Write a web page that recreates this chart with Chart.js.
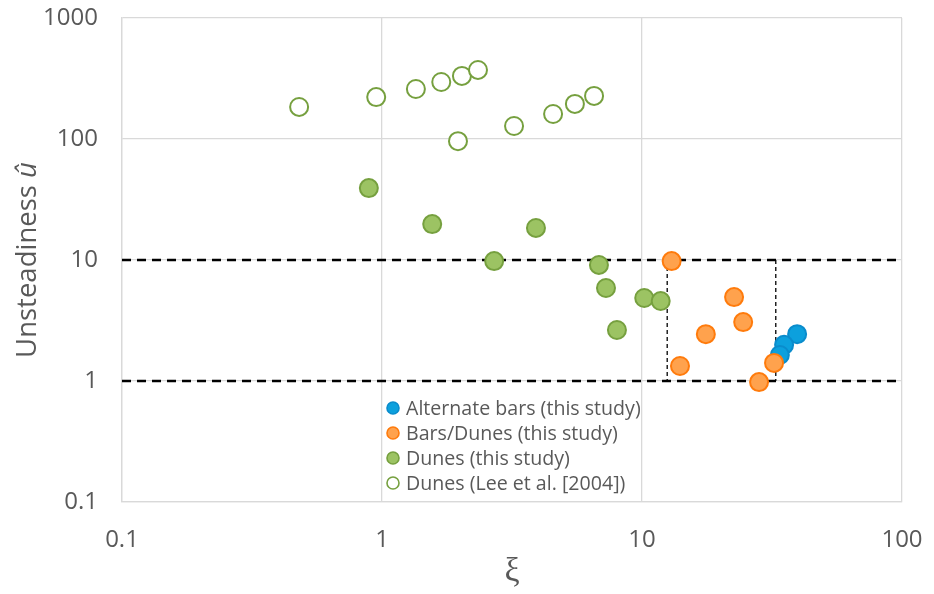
<!DOCTYPE html>
<html>
<head>
<meta charset="utf-8">
<title>Unsteadiness vs xi</title>
<script src="https://cdn.jsdelivr.net/npm/chart.js@4.4.1/dist/chart.umd.min.js"></script>
<style>
  html, body { margin: 0; padding: 0; background: #fff; }
  #wrap { width: 934px; height: 594px; }
</style>
</head>
<body>
<div id="wrap"><canvas id="scatterChart" width="934" height="594"></canvas></div>
<script>
// Data
const altBarsXi = [39.5, 35.2, 33.9];
const altBarsU = [2.44, 1.99, 1.64];

const barsDunesXi = [13.0, 22.6, 24.5, 17.6, 14.0, 32.2, 28.2];
const barsDunesU = [9.8, 4.94, 3.07, 2.44, 1.33, 1.41, 0.98];

const dunesXi = [0.89, 1.56, 3.91, 2.70, 6.83, 7.27, 10.2, 11.8, 8.01];
const dunesU = [39.3, 19.8, 18.4, 9.8, 9.1, 5.87, 4.85, 4.58, 2.64];

const leeXi = [0.48, 0.95, 1.35, 1.69, 2.03, 2.34, 1.96, 3.22, 4.55, 5.52, 6.54];
const leeU = [184, 222, 259, 296, 332, 372, 96, 128, 161, 195, 227];

// Dashed bounds: horizontal at u = 1 and 10, vertical box edges
const boundU = [1, 10];
const boundXi = [12.5, 32.7];

const xTicks = [0.1, 1, 10, 100];
const yTicks = [0.1, 1, 10, 100, 1000];

const seriesLabels = [
  'Alternate bars (this study)',
  'Bars/Dunes (this study)',
  'Dunes (this study)',
  'Dunes (Lee et al. [2004])'
];

const GRID = '#d9d9d9';
const TEXT = '#595959';

function toPoints(xs, ys) {
  return xs.map((x, i) => ({ x: x, y: ys[i] }));
}

/**
 * Draws the in-plot legend and both axis titles
 */
const decorPlugin = {
  id: 'decor',
  afterDraw(chart) {
    const ctx = chart.ctx;
    const area = chart.chartArea;
    ctx.save();

    // legend
    const lx = 393, ly = 408, step = 25;
    ctx.font = '19.6px "Open Sans"';
    ctx.textBaseline = 'middle';
    ctx.textAlign = 'left';
    seriesLabels.forEach((label, i) => {
      const ds = chart.data.datasets[i];
      const y = ly + i * step;
      ctx.beginPath();
      ctx.arc(lx, y, 6, 0, Math.PI * 2);
      ctx.fillStyle = ds.backgroundColor;
      ctx.fill();
      ctx.lineWidth = 1.6;
      ctx.strokeStyle = ds.borderColor;
      ctx.stroke();
      ctx.fillStyle = TEXT;
      ctx.fillText(label, lx + 13, y + 1);
    });

    // x title
    ctx.font = '34px "Liberation Serif"';
    ctx.textAlign = 'center';
    ctx.fillStyle = TEXT;
    ctx.fillText('ξ', (area.left + area.right) / 2, 572);

    // y title, regular word plus italic u-hat
    const word = 'Unsteadiness ';
    const sym = 'û';
    ctx.translate(28, (area.top + area.bottom) / 2);
    ctx.rotate(-Math.PI / 2);
    ctx.textAlign = 'left';
    ctx.font = '27.5px "Open Sans"';
    const w1 = ctx.measureText(word).width;
    ctx.font = 'italic 27.5px "Open Sans"';
    const w2 = ctx.measureText(sym).width;
    const start = -(w1 + w2) / 2;
    ctx.font = '27.5px "Open Sans"';
    ctx.fillText(word, start, 0);
    ctx.font = 'italic 27.5px "Open Sans"';
    ctx.fillText(sym, start + w1, 0);

    ctx.restore();
  }
};

function buildDatasets() {
  const markers = [
    { xs: altBarsXi, ys: altBarsU, fill: '#0ca0dd', line: '#0a8ccc', order: 4 },
    { xs: barsDunesXi, ys: barsDunesU, fill: '#ffa24d', line: '#ff7b0c', order: 3 },
    { xs: dunesXi, ys: dunesU, fill: '#9cc363', line: '#76a03f', order: 2 },
    { xs: leeXi, ys: leeU, fill: '#ffffff', line: '#76a03f', order: 1 }
  ];

  const datasets = markers.map((m, i) => ({
    label: seriesLabels[i],
    data: toPoints(m.xs, m.ys),
    backgroundColor: m.fill,
    borderColor: m.line,
    pointRadius: 9,
    pointBorderWidth: 2,
    pointHoverRadius: 9,
    showLine: false,
    order: m.order
  }));

  // thick horizontal dashed bounds across the whole plot
  boundU.forEach(u => {
    datasets.push({
      label: 'bound',
      data: [{ x: xTicks[0], y: u }, { x: xTicks[xTicks.length - 1], y: u }],
      showLine: true,
      borderColor: '#000',
      borderWidth: 2.6,
      borderDash: [9, 6],
      pointRadius: 0,
      order: 6
    });
  });

  // thin vertical dashed box edges
  boundXi.forEach(xi => {
    datasets.push({
      label: 'box',
      data: [{ x: xi, y: boundU[1] }, { x: xi, y: boundU[0] }],
      showLine: true,
      borderColor: '#000',
      borderWidth: 1.3,
      borderDash: [4, 3],
      pointRadius: 0,
      order: 5
    });
  });

  return datasets;
}

function logAxis(ticksList, extra) {
  return Object.assign({
    type: 'logarithmic',
    min: ticksList[0],
    max: ticksList[ticksList.length - 1],
    afterBuildTicks: scale => {
      scale.ticks = ticksList.map(v => ({ value: v }));
    },
    grid: { color: GRID, lineWidth: 1.3, drawTicks: false },
    border: { color: GRID, width: 1.3 },
    ticks: {
      color: TEXT,
      font: { family: 'Open Sans', size: 24 },
      autoSkip: false,
      maxRotation: 0,
      callback: v => String(v)
    }
  }, extra);
}

document.addEventListener('DOMContentLoaded', function() {
  const ctx = document.getElementById('scatterChart');

  // fixed axis sizes so the plot area lands where the reference has it
  const xAxis = logAxis(xTicks, {
    afterFit: scale => {
      scale.height = 92;
      scale.paddingLeft = 0;
      scale.paddingRight = 0;
    }
  });
  xAxis.ticks.padding = 24;

  const yAxis = logAxis(yTicks, {
    afterFit: scale => {
      scale.width = 122;
      scale.paddingTop = 0;
      scale.paddingBottom = 0;
    }
  });
  yAxis.ticks.padding = 24;

  new Chart(ctx, {
    type: 'scatter',
    data: { datasets: buildDatasets() },
    options: {
      responsive: false,
      animation: false,
      layout: { padding: { top: 18, right: 32, left: 0, bottom: 0 } },
      scales: { x: xAxis, y: yAxis },
      plugins: {
        legend: { display: false },
        tooltip: { enabled: false }
      }
    },
    plugins: [decorPlugin]
  });
});
</script>
</body>
</html>
